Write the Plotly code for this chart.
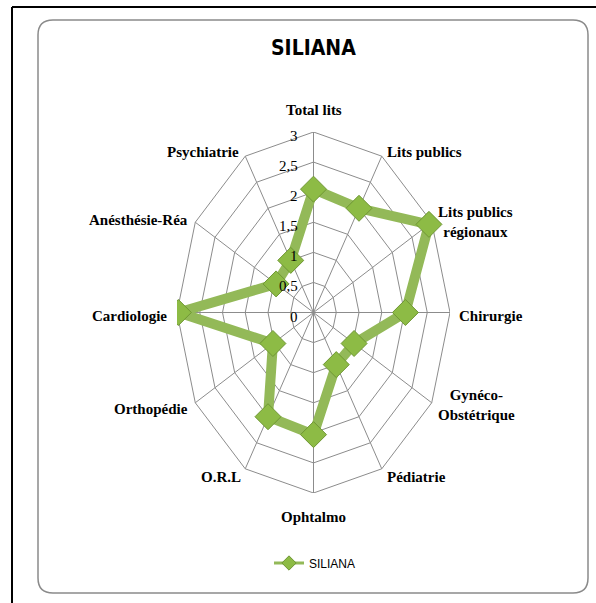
import math
import plotly.graph_objects as go

# categories (clockwise from top) and values
categories = ['Total lits', 'Lits publics', 'Lits publics<br>régionaux', 'Chirurgie',
              'Gynéco-<br>Obstétrique', 'Pédiatrie', 'Ophtalmo', 'O.R.L', 'Orthopédie',
              'Cardiologie', 'Anésthésie-Réa', 'Psychiatrie']
siliana = [2.05, 2.0, 2.93, 2.02, 1.03, 1.0, 2.03, 2.0, 1.03, 2.97, 0.95, 1.0]
tick_vals = [0, 0.5, 1, 1.5, 2, 2.5, 3]
tick_text = ['0', '0,5', '1', '1,5', '2', '2,5', '3']
r_max = 3

GREEN = '#93B958'
GRID = '#8c8c8c'
W, H = 596, 603
ML, MR, MT, MB = 177, 146, 132, 110


def px_x(px):
    return (px - ML) / (W - ML - MR)


def px_y(py):
    return (H - MB - py) / (H - MT - MB)


n = len(categories)
angles = [2 * math.pi * i / n for i in range(n)]


def polar_xy(vals):
    xs = [v * math.sin(a) for v, a in zip(vals, angles)]
    ys = [v * math.cos(a) for v, a in zip(vals, angles)]
    return xs, ys


traces = []

# grid rings
gx, gy = [], []
for tv in tick_vals[1:]:
    xs, ys = polar_xy([tv] * n)
    gx += xs + [xs[0], None]
    gy += ys + [ys[0], None]
# spokes
for a in angles:
    gx += [0, r_max * math.sin(a), None]
    gy += [0, r_max * math.cos(a), None]
traces.append(go.Scatter(x=gx, y=gy, mode='lines', line=dict(color=GRID, width=1),
                         hoverinfo='skip', showlegend=False))

# data series
xs, ys = polar_xy(siliana)
traces.append(go.Scatter(x=xs + [xs[0]], y=ys + [ys[0]], mode='lines', line=dict(color=GREEN, width=10),
                         showlegend=False, hoverinfo='skip'))
traces.append(go.Scatter(x=xs, y=ys, mode='markers', name='SILIANA', showlegend=False,
                         marker=dict(symbol='diamond', size=20, color='#8DBB45',
                                     line=dict(color='#6F9734', width=1))))
# legend entry
traces.append(go.Scatter(x=[None], y=[None], mode='lines+markers', name='SILIANA',
                         line=dict(color=GREEN, width=3),
                         marker=dict(symbol='diamond', size=11, color='#8DBB45',
                                     line=dict(color='#6F9734', width=1))))

fig = go.Figure(data=traces)

# category labels
lab_font = dict(family='Liberation Serif', size=15, color='black')
label_pos = {
    0: dict(xanchor='center', yanchor='bottom', xshift=0, yshift=12),
    1: dict(xanchor='left', yanchor='middle', xshift=3, yshift=4),
    2: dict(xanchor='left', yanchor='middle', xshift=4, yshift=0),
    3: dict(xanchor='left', yanchor='middle', xshift=7, yshift=-3),
    4: dict(xanchor='left', yanchor='middle', xshift=4, yshift=-2),
    5: dict(xanchor='left', yanchor='middle', xshift=3, yshift=-8),
    6: dict(xanchor='center', yanchor='top', xshift=0, yshift=-14),
    7: dict(xanchor='right', yanchor='middle', xshift=-2, yshift=-8),
    8: dict(xanchor='right', yanchor='middle', xshift=-5, yshift=-6),
    9: dict(xanchor='right', yanchor='middle', xshift=-8, yshift=-3),
    10: dict(xanchor='right', yanchor='middle', xshift=-5, yshift=2),
    11: dict(xanchor='right', yanchor='middle', xshift=-4, yshift=4),
}
lx, ly = polar_xy([r_max] * n)
for i, cat in enumerate(categories):
    fig.add_annotation(x=lx[i], y=ly[i], text='<b>' + cat + '</b>', showarrow=False,
                       font=lab_font, align='center', **label_pos[i])

# radial tick labels
for tv, tt in zip(tick_vals, tick_text):
    fig.add_annotation(x=0, y=tv, text=tt, showarrow=False, xanchor='right', yanchor='middle',
                       xshift=-14, yshift=-4,
                       font=dict(family='Liberation Serif', size=15, color='black'))

# title
fig.add_annotation(xref='paper', yref='paper', x=px_x(313), y=px_y(48), text='<b>SILIANA</b>',
                   showarrow=False, xanchor='center', yanchor='middle',
                   font=dict(family='DejaVu Sans Condensed, Liberation Sans, sans-serif', size=21,
                             color='black'))

# rounded chart-area border
x0, x1 = px_x(38), px_x(588)
y0, y1 = px_y(20), px_y(593)
rx, ry = 15 / (W - ML - MR), 15 / (H - MT - MB)
path = (f'M {x0 + rx},{y0} L {x1 - rx},{y0} Q {x1},{y0} {x1},{y0 - ry} '
        f'L {x1},{y1 + ry} Q {x1},{y1} {x1 - rx},{y1} '
        f'L {x0 + rx},{y1} Q {x0},{y1} {x0},{y1 + ry} '
        f'L {x0},{y0 - ry} Q {x0},{y0} {x0 + rx},{y0} Z')
fig.add_shape(type='path', path=path, xref='paper', yref='paper', line=dict(color='#8a8a8a', width=1.5),
              layer='below')
# outer black frame (top and left edges visible)
fig.add_shape(type='line', xref='paper', yref='paper', x0=px_x(12), x1=px_x(600), y0=px_y(7), y1=px_y(7),
              line=dict(color='black', width=2))
fig.add_shape(type='line', xref='paper', yref='paper', x0=px_x(12), x1=px_x(12), y0=px_y(7), y1=px_y(610),
              line=dict(color='black', width=2))

fig.update_layout(
    width=W, height=H, autosize=False,
    margin=dict(l=ML, r=MR, t=MT, b=MB),
    paper_bgcolor='white', plot_bgcolor='white',
    xaxis=dict(range=[-r_max, r_max], visible=False, fixedrange=True),
    yaxis=dict(range=[-r_max, r_max], visible=False, fixedrange=True),
    showlegend=True,
    legend=dict(x=px_x(269), y=px_y(563), xanchor='left', yanchor='middle',
                bgcolor='rgba(0,0,0,0)', font=dict(family='Liberation Sans', size=12, color='black'),
                itemwidth=30),
)

fig.write_html('out.html', config={'displayModeBar': False},
               post_script="document.body.style.margin='0';")
